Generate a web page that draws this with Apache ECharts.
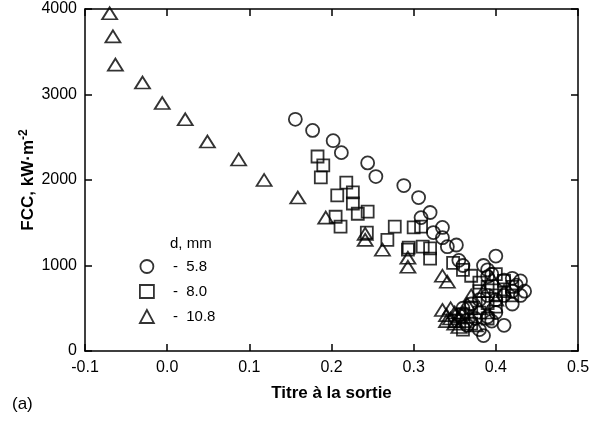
<!DOCTYPE html>
<html><head><meta charset="utf-8">
<script src="https://cdn.jsdelivr.net/npm/echarts@6/dist/echarts.min.js"></script>
<style>html,body{margin:0;padding:0;background:#fff}#c{width:604px;height:422px}</style>
</head><body><div id="c"></div>
<script>
const xTicks = [-0.1, 0.0, 0.1, 0.2, 0.3, 0.4, 0.5];
const yTicks = [0, 1000, 2000, 3000, 4000];
const seriesNames = ['5.8', '8.0', '10.8'];

const circles58 = [
  [0.156,2710],[0.177,2580],[0.202,2460],[0.212,2320],[0.244,2200],[0.254,2040],
  [0.288,1935],[0.306,1795],[0.320,1620],[0.309,1560],[0.335,1445],[0.324,1385],
  [0.335,1325],[0.341,1220],[0.352,1240],[0.355,1060],[0.360,1000],
  [0.385,1000],[0.390,950],[0.395,900],[0.400,1110],[0.390,870],[0.410,830],
  [0.420,850],[0.425,770],[0.430,820],[0.435,700],[0.430,650],[0.420,700],
  [0.410,650],[0.400,600],[0.390,650],[0.380,600],[0.370,550],[0.360,500],
  [0.355,420],[0.365,300],[0.380,250],[0.385,180],[0.395,350],[0.410,300],
  [0.420,550],[0.400,450],[0.390,400],[0.375,380]
];
const squares80 = [
  [0.183,2275],[0.190,2170],[0.187,2030],[0.218,1970],[0.207,1820],[0.226,1855],
  [0.226,1725],[0.232,1605],[0.244,1630],[0.205,1570],[0.211,1455],[0.243,1385],
  [0.277,1455],[0.268,1300],[0.300,1445],[0.309,1455],[0.294,1210],[0.311,1220],
  [0.293,1185],[0.320,1200],[0.320,1080],[0.348,1030],
  [0.360,950],[0.370,880],[0.380,800],[0.390,750],[0.400,900],[0.410,720],
  [0.420,650],[0.400,650],[0.390,560],[0.380,700],[0.370,500],[0.360,430],
  [0.350,350],[0.360,250],[0.370,320],[0.410,820],[0.420,750],[0.380,450],
  [0.390,380],[0.400,520]
];
const triangles108 = [
  [-0.070,3950],[-0.066,3680],[-0.063,3350],[-0.030,3140],[-0.006,2900],[0.022,2710],
  [0.049,2450],[0.087,2240],[0.118,2000],[0.159,1795],[0.193,1560],[0.241,1370],
  [0.241,1300],[0.262,1185],[0.293,1090],[0.293,985],[0.335,880],[0.341,810],
  [0.335,480],[0.340,420],[0.345,380],[0.350,450],[0.340,350],[0.350,320],
  [0.355,400],[0.345,500],[0.360,350],[0.360,450],[0.355,280],[0.370,400],
  [0.365,550],[0.370,650],[0.380,500],[0.375,300],[0.390,450],[0.385,700],
  [0.400,600],[0.410,700],[0.395,850]
];

const FONT = "'Liberation Sans', Arial, sans-serif";
const mk = {color:'transparent', borderColor:'#000', borderWidth:1.8};
const chart = echarts.init(document.getElementById('c'), null, {renderer:'canvas'});
const axisLine = {show:true, onZero:false, lineStyle:{color:'#000', width:1.5}};
const axisTick = {show:true, inside:true, length:7, lineStyle:{color:'#000', width:1.5}};
chart.setOption({
  animation:false,
  backgroundColor:'#fff',
  textStyle:{fontFamily:FONT},
  grid:{left:85, right:26, top:9, bottom:71},
  legend:{
    orient:'vertical', left:134, top:254, itemWidth:14, itemHeight:13, itemGap:10,
    data:[{name:seriesNames[0], icon:'circle'},{name:seriesNames[1], icon:'rect'},{name:seriesNames[2], icon:'triangle'}],
    formatter: n => '-  ' + n,
    itemStyle:{color:'transparent', borderColor:'#000', borderWidth:1.8},
    textStyle:{fontFamily:FONT, fontSize:15, color:'#000', padding:[0,0,0,14]}
  },
  graphic:[
    {type:'text', left:170, top:236, style:{text:'d, mm', font:'15px '+FONT, fill:'#000'}},
    {type:'text', left:12, top:396, style:{text:'(a)', font:'17px '+FONT, fill:'#000'}}
  ],
  xAxis:[{
    type:'value', min:xTicks[0], max:xTicks[xTicks.length-1], interval:0.1,
    axisLine, axisTick, splitLine:{show:false},
    axisLabel:{fontSize:16, color:'#000', margin:9, fontFamily:FONT, formatter:v=>v.toFixed(1)},
    name:'Titre à la sortie', nameLocation:'middle', nameGap:34, nameMoveOverlap:false,
    nameTextStyle:{fontSize:17, fontWeight:'bold', color:'#000', fontFamily:FONT}
  },{
    type:'value', position:'top', min:xTicks[0], max:xTicks[xTicks.length-1], interval:0.1,
    axisLine, axisTick, axisLabel:{show:false}, splitLine:{show:false}
  }],
  yAxis:[{
    type:'value', min:yTicks[0], max:yTicks[yTicks.length-1], interval:1000,
    axisLine, axisTick, splitLine:{show:false},
    axisLabel:{fontSize:16, color:'#000', margin:8, fontFamily:FONT, formatter:v=>String(v)},
    name:'FCC, kW·m{s|-2}', nameLocation:'middle', nameGap:47, nameRotate:90, nameMoveOverlap:false,
    nameTextStyle:{fontSize:17, fontWeight:'bold', color:'#000', fontFamily:FONT,
      rich:{s:{fontSize:12, fontWeight:'bold', color:'#000', fontFamily:FONT, verticalAlign:'top', padding:[0,0,8,0]}}}
  },{
    type:'value', position:'right', min:yTicks[0], max:yTicks[yTicks.length-1], interval:1000,
    axisLine, axisTick, axisLabel:{show:false}, splitLine:{show:false}
  }],
  series:[
    {name:seriesNames[0], type:'scatter', symbol:'circle', symbolSize:13, data:circles58, itemStyle:mk},
    {name:seriesNames[1], type:'scatter', symbol:'rect', symbolSize:12, data:squares80, itemStyle:mk},
    {name:seriesNames[2], type:'scatter', symbol:'triangle', symbolSize:[15,12], data:triangles108, itemStyle:mk}
  ]
});
</script></body></html>
